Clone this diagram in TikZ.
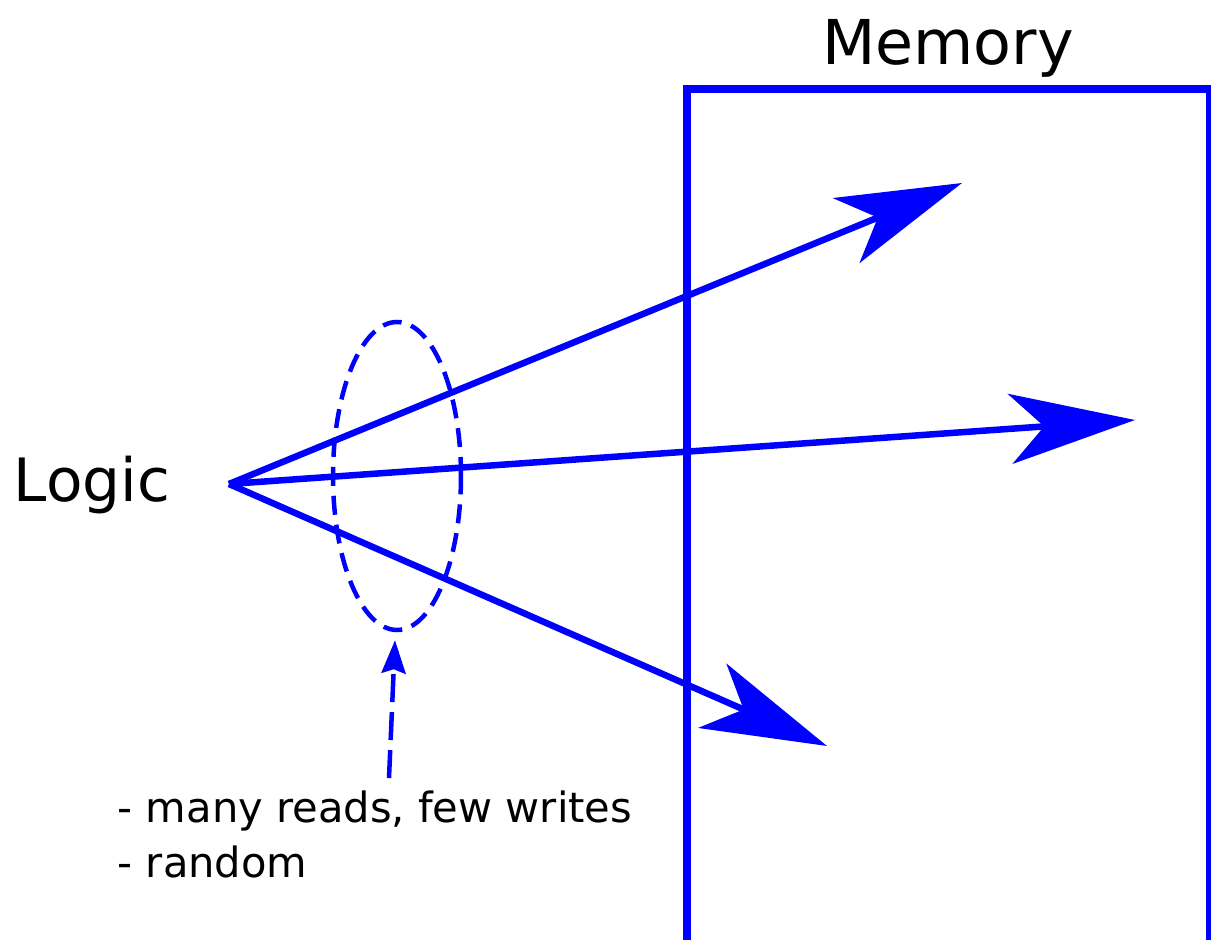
\documentclass[tikz,border=0pt]{standalone}
\usepackage{fontspec}
\setmainfont{DejaVu Sans}
\usepackage{tikz}
\usetikzlibrary{arrows.meta,shapes.geometric}

\tikzset{
  access/.style={blue, line width=0.065cm,
    -{Stealth[length=1.25cm, width=0.70cm, inset=0.34cm]}},
  patch/.style={blue, line width=0.045cm, dash pattern=on 0.28cm off 0.10cm},
}

\begin{document}
\begin{tikzpicture}
\useasboundingbox (0,0) rectangle (12.11,9.40);

% memory block, open at the bottom
\draw[blue, line width=0.075cm] (6.87,-0.2) |- (12.10,8.51) -- (12.10,-0.2);
\node (memory) [anchor=base] at (9.48,8.75) {\fontsize{17.6}{20}\selectfont Memory};

\node (logic) [anchor=base] at (0.92,4.38) {\fontsize{17}{20}\selectfont Logic};
\coordinate (src) at (2.29,4.56);

\coordinate (a1) at (9.62,7.57);
\coordinate (a2) at (11.35,5.20);
\coordinate (a3) at (8.27,1.94);

\draw[access] (src) -- (a1);
\draw[access] (src) -- (a2);
\draw[access] (src) -- (a3);

% the accesses near the logic
\node (group) [patch, dash pattern=on 0.19cm off 0.10cm,
  draw, ellipse, inner sep=0pt, minimum width=1.28cm,
  minimum height=3.08cm] at (3.97,4.64) {};

\coordinate (from) at (3.89,1.62);
\draw[patch, -{Stealth[length=0.33cm, width=0.24cm, inset=0.04cm]}]
  (from) -- ([xshift=-0.02cm, yshift=-0.08cm]group.south);

\fontsize{11.85}{14}\selectfont
\node (reads) [anchor=base west, inner sep=0pt] at (1.17,1.18) {- many reads, few writes};
\node (random) [anchor=base west, inner sep=0pt] at (1.17,0.62) {- random};

\end{tikzpicture}
\end{document}
